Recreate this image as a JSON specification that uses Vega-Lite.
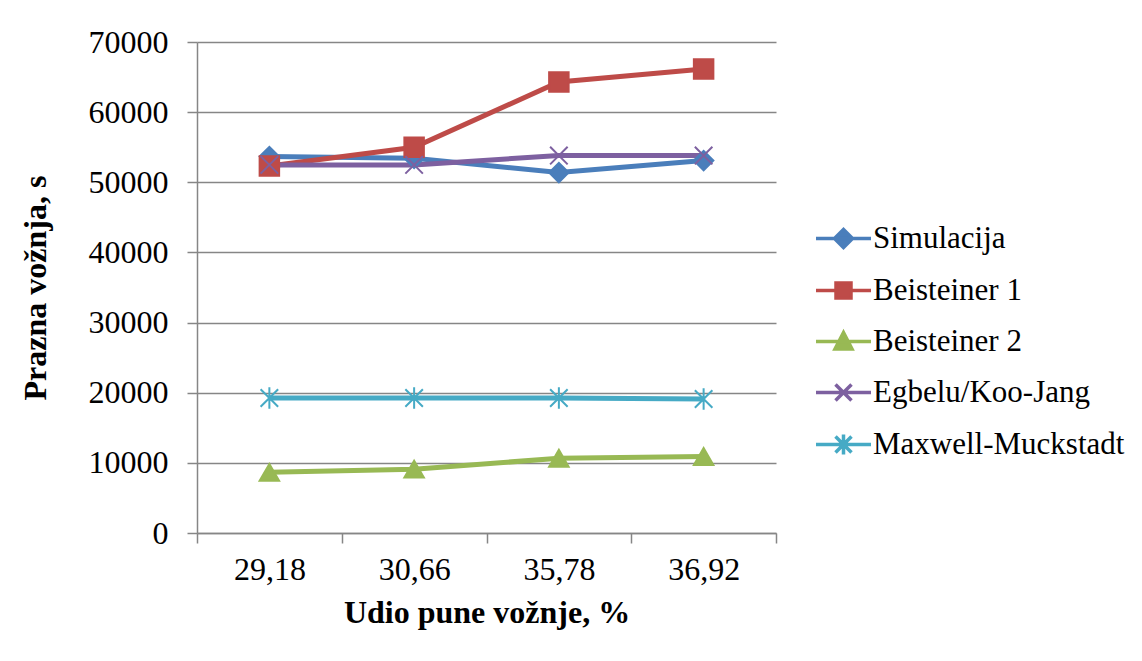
{
  "$schema": "https://vega.github.io/schema/vega-lite/v6.json",
  "autosize": {"type": "none"},
  "padding": {"left": 197, "top": 42, "right": 366, "bottom": 128},
  "width": 579,
  "height": 491,
  "background": "white",
  "config": {
    "view": {"stroke": null},
    "font": "Times New Roman, Liberation Serif, DejaVu Serif, serif",
    "axis": {
      "labelFont": "Times New Roman, Liberation Serif, DejaVu Serif, serif",
      "labelFontSize": 32,
      "labelColor": "#000000",
      "titleFont": "Times New Roman, Liberation Serif, DejaVu Serif, serif",
      "titleFontSize": 32,
      "titleFontWeight": "bold",
      "titleColor": "#000000",
      "domainColor": "#868686",
      "domainWidth": 1.5,
      "tickColor": "#868686",
      "tickWidth": 1.5,
      "tickSize": 10,
      "gridColor": "#868686",
      "gridWidth": 1.5
    }
  },
  "data": {
    "values": [
      {"series": "Simulacija", "udio": "29,18", "value": 53670},
      {"series": "Simulacija", "udio": "30,66", "value": 53430},
      {"series": "Simulacija", "udio": "35,78", "value": 51380},
      {"series": "Simulacija", "udio": "36,92", "value": 53100},
      {"series": "Beisteiner 1", "udio": "29,18", "value": 52330},
      {"series": "Beisteiner 1", "udio": "30,66", "value": 55000},
      {"series": "Beisteiner 1", "udio": "35,78", "value": 64290},
      {"series": "Beisteiner 1", "udio": "36,92", "value": 66140},
      {"series": "Beisteiner 2", "udio": "29,18", "value": 8650},
      {"series": "Beisteiner 2", "udio": "30,66", "value": 9100},
      {"series": "Beisteiner 2", "udio": "35,78", "value": 10650},
      {"series": "Beisteiner 2", "udio": "36,92", "value": 10900},
      {"series": "Egbelu/Koo-Jang", "udio": "29,18", "value": 52480},
      {"series": "Egbelu/Koo-Jang", "udio": "30,66", "value": 52480},
      {"series": "Egbelu/Koo-Jang", "udio": "35,78", "value": 53810},
      {"series": "Egbelu/Koo-Jang", "udio": "36,92", "value": 53810},
      {"series": "Maxwell-Muckstadt", "udio": "29,18", "value": 19240},
      {"series": "Maxwell-Muckstadt", "udio": "30,66", "value": 19240},
      {"series": "Maxwell-Muckstadt", "udio": "35,78", "value": 19240},
      {"series": "Maxwell-Muckstadt", "udio": "36,92", "value": 19100}
    ]
  },
  "encoding": {
    "x": {
      "field": "udio",
      "type": "ordinal",
      "sort": null,
      "scale": {"type": "band", "paddingInner": 0, "paddingOuter": 0},
      "axis": {
        "title": "Udio pune vožnje, %",
        "labelAngle": 0,
        "tickBand": "extent",
        "labelPadding": 11,
        "titlePadding": 12,
        "grid": false
      }
    },
    "y": {
      "field": "value",
      "type": "quantitative",
      "scale": {"domain": [0, 70000], "nice": false, "zero": true},
      "axis": {
        "title": "Prazna vožnja, s",
        "values": [0, 10000, 20000, 30000, 40000, 50000, 60000, 70000],
        "format": "d",
        "labelPadding": 19,
        "titlePadding": 36,
        "grid": true
      }
    }
  },
  "layer": [
    {
      "mark": {"type": "line", "strokeWidth": 5},
      "encoding": {
        "color": {
          "field": "series",
          "type": "nominal",
          "scale": {
            "domain": ["Simulacija", "Beisteiner 1", "Beisteiner 2", "Egbelu/Koo-Jang", "Maxwell-Muckstadt"],
            "range": ["#4A7EBB", "#BE4B48", "#98B954", "#7D60A0", "#46AAC5"]
          },
          "legend": null
        }
      }
    },
    {
      "mark": {"type": "point", "filled": true, "size": 380, "strokeWidth": 2, "opacity": 1},
      "encoding": {
        "fill": {
          "field": "series",
          "type": "nominal",
          "scale": {
            "domain": ["Simulacija", "Beisteiner 1", "Beisteiner 2", "Egbelu/Koo-Jang", "Maxwell-Muckstadt"],
            "range": ["#4A7EBB", "#BE4B48", "#98B954", "#7D60A0", "#46AAC5"]
          },
          "legend": null
        },
        "stroke": {
          "field": "series",
          "type": "nominal",
          "scale": {
            "domain": ["Simulacija", "Beisteiner 1", "Beisteiner 2", "Egbelu/Koo-Jang", "Maxwell-Muckstadt"],
            "range": ["#4A7EBB", "#BE4B48", "#98B954", "#7D60A0", "#46AAC5"]
          },
          "legend": null
        },
        "shape": {
          "field": "series",
          "type": "nominal",
          "scale": {
            "domain": ["Simulacija", "Beisteiner 1", "Beisteiner 2", "Egbelu/Koo-Jang", "Maxwell-Muckstadt"],
            "range": ["diamond", "square", "triangle-up", "M-0.9,-0.9L0.9,0.9M0.9,-0.9L-0.9,0.9", "M-0.9,-0.9L0.9,0.9M0.9,-0.9L-0.9,0.9M0,-1.1L0,1.1"]
          },
          "legend": null
        }
      }
    },
    {
      "mark": {"type": "point", "filled": true, "size": 400, "opacity": 0},
      "encoding": {
        "fill": {
          "field": "series",
          "type": "nominal",
          "title": null,
          "scale": {
            "domain": ["Simulacija", "Beisteiner 1", "Beisteiner 2", "Egbelu/Koo-Jang", "Maxwell-Muckstadt"],
            "range": ["#4A7EBB", "#BE4B48", "#98B954", "#7D60A0", "#46AAC5"]
          },
          "legend": {
            "orient": "none",
            "legendX": 631,
            "legendY": 181,
            "padding": 0,
            "symbolSize": 400,
            "symbolOpacity": 1,
            "symbolStrokeWidth": 3.5,
            "labelOffset": 14,
            "labelFont": "Times New Roman, Liberation Serif, DejaVu Serif, serif",
            "labelFontSize": 31,
            "labelColor": "#000000",
            "labelLimit": 400,
            "rowPadding": 19
          }
        },
        "stroke": {
          "field": "series",
          "type": "nominal",
          "title": null,
          "scale": {
            "domain": ["Simulacija", "Beisteiner 1", "Beisteiner 2", "Egbelu/Koo-Jang", "Maxwell-Muckstadt"],
            "range": ["#4A7EBB", "#BE4B48", "#98B954", "#7D60A0", "#46AAC5"]
          },
          "legend": {
            "orient": "none",
            "legendX": 631,
            "legendY": 181,
            "padding": 0,
            "symbolSize": 400,
            "symbolOpacity": 1,
            "symbolStrokeWidth": 3.5,
            "labelOffset": 14,
            "labelFont": "Times New Roman, Liberation Serif, DejaVu Serif, serif",
            "labelFontSize": 31,
            "labelColor": "#000000",
            "labelLimit": 400,
            "rowPadding": 19
          }
        },
        "shape": {
          "field": "series",
          "type": "nominal",
          "title": null,
          "scale": {
            "domain": ["Simulacija", "Beisteiner 1", "Beisteiner 2", "Egbelu/Koo-Jang", "Maxwell-Muckstadt"],
            "range": [
              "M-2.75,0L2.75,0M0,-0.9L0.9,0L0,0.9L-0.9,0Z",
              "M-2.75,0L2.75,0M-0.75,-0.75L0.75,-0.75L0.75,0.75L-0.75,0.75Z",
              "M-2.75,0L2.75,0M0,-0.9L0.85,0.75L-0.85,0.75Z",
              "M-2.75,0L2.75,0M-0.8,-0.8L0.8,0.8M0.8,-0.8L-0.8,0.8",
              "M-2.75,0L2.75,0M-0.8,-0.8L0.8,0.8M0.8,-0.8L-0.8,0.8M0,-1L0,1"
            ]
          },
          "legend": {
            "orient": "none",
            "legendX": 631,
            "legendY": 181,
            "padding": 0,
            "symbolSize": 400,
            "symbolOpacity": 1,
            "symbolStrokeWidth": 3.5,
            "labelOffset": 14,
            "labelFont": "Times New Roman, Liberation Serif, DejaVu Serif, serif",
            "labelFontSize": 31,
            "labelColor": "#000000",
            "labelLimit": 400,
            "rowPadding": 19
          }
        }
      }
    }
  ],
  "resolve": {
    "scale": {"fill": "independent", "stroke": "independent", "shape": "independent"}
  }
}
